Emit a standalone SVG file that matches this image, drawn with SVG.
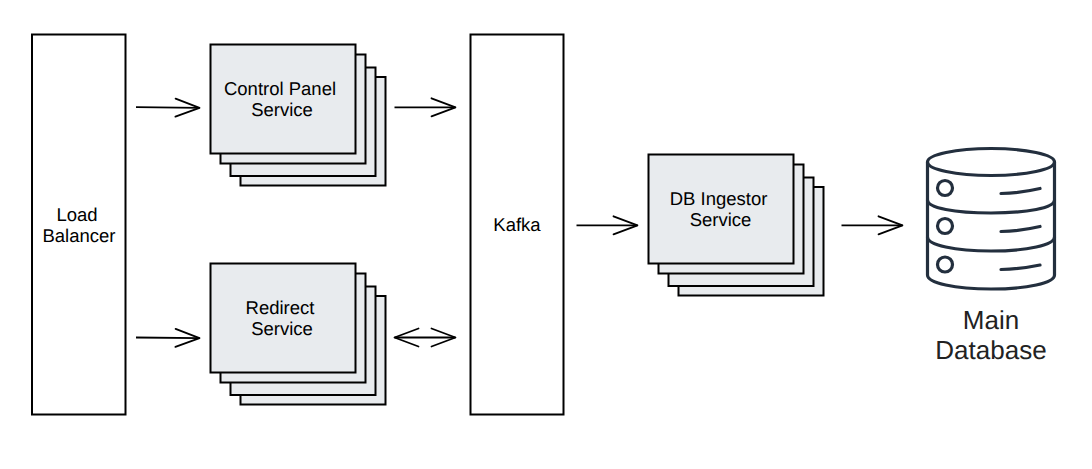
<svg xmlns="http://www.w3.org/2000/svg" width="1092" height="469" viewBox="0 0 1092 469">
<style>
.box{fill:#fff;stroke:#000;stroke-width:2}
.card{fill:#e8ebee;stroke:#000;stroke-width:2}
.conn{fill:none;stroke:#000;stroke-width:1.8}
.db{fill:none;stroke:#232f3e;stroke-width:3.2;stroke-linecap:round;stroke-linejoin:round}
text{font-family:"Liberation Sans",Arial,sans-serif;font-size:18.5px;fill:#000;text-anchor:middle;text-rendering:geometricPrecision}
.big{font-size:26px;fill:#222}
</style>
<defs>
<marker id="open" markerUnits="userSpaceOnUse" overflow="visible" markerWidth="26" markerHeight="20" refX="24" refY="9" orient="auto-start-reverse">
<path d="M0 0L24 9L0 18" fill="none" stroke="#000" stroke-width="1.800" stroke-linejoin="round" stroke-linecap="round"/>
</marker>
<g id="stack">
<rect class="card" x="30" y="32.500" width="145" height="108.500"/>
<rect class="card" x="20" y="23" width="145" height="108.500"/>
<rect class="card" x="10" y="10" width="145" height="109"/>
<rect class="card" x="0" y="0" width="145" height="109"/>
</g>
</defs>
<rect width="1092" height="469" fill="#fff"/>
<g id="connectors">
<path class="conn" marker-end="url(#open)" d="M136 107.200L199.500 107.900"/>
<path class="conn" marker-end="url(#open)" d="M136 337.500L199.500 338.200"/>
<path class="conn" marker-end="url(#open)" d="M394.500 107.300H455.500"/>
<path class="conn" marker-start="url(#open)" marker-end="url(#open)" d="M394.500 337.500H455.500"/>
<path class="conn" marker-end="url(#open)" d="M576.500 225.300H637.500"/>
<path class="conn" marker-end="url(#open)" d="M841.500 225.300H902.500"/>
</g>
<g id="load-balancer">
<rect class="box" x="32" y="34.500" width="93.500" height="380"/>
<text x="77" y="221">Load</text>
<text x="79" y="242">Balancer</text>
</g>
<g id="control-panel-service">
<use href="#stack" x="210.500" y="44.500"/>
<text x="280" y="95">Control Panel</text>
<text x="282" y="116">Service</text>
</g>
<g id="redirect-service">
<use href="#stack" x="210.500" y="263.500"/>
<text x="280" y="314">Redirect</text>
<text x="282" y="335">Service</text>
</g>
<g id="kafka">
<rect class="box" x="470.500" y="34.500" width="93" height="380"/>
<text x="517" y="231">Kafka</text>
</g>
<g id="db-ingestor-service">
<use href="#stack" x="648.500" y="154.500"/>
<text x="718.500" y="205">DB Ingestor</text>
<text x="720.500" y="226">Service</text>
</g>
<g id="main-database">
<ellipse class="db" cx="991" cy="162" rx="63.500" ry="13.500"/>
<path class="db" d="M927.500 162V275C927.500 283 955 289 991 289S1054.500 283 1054.500 275V162"/>
<path class="db" d="M927.500 200C927.500 208 955 213 991 213S1054.500 208 1054.500 200"/>
<path class="db" d="M927.500 237C927.500 245 955 251 991 251S1054.500 245 1054.500 237"/>
<circle class="db" cx="945" cy="188" r="7.500"/>
<circle class="db" cx="945" cy="226" r="7.500"/>
<circle class="db" cx="945" cy="264.500" r="7.500"/>
<path class="db" d="M1001 193.500Q1021 193 1040 188.500"/>
<path class="db" d="M1001 231.500Q1021 231 1040 226.500"/>
<path class="db" d="M1001 269.500Q1021 269 1040 265"/>
<text class="big" x="991" y="329">Main</text>
<text class="big" x="991" y="359">Database</text>
</g>
</svg>
